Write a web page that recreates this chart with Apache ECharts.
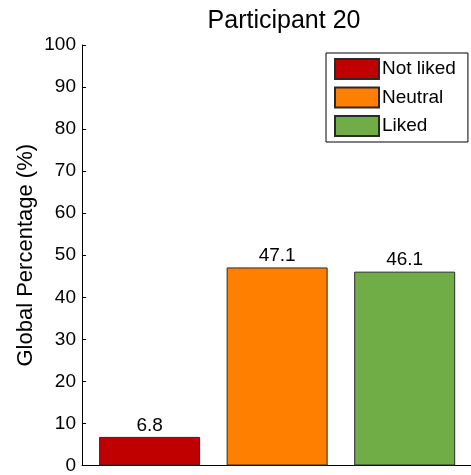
<!DOCTYPE html>
<html><head><meta charset="utf-8">
<script src="https://cdn.jsdelivr.net/npm/echarts@6/dist/echarts.min.js"></script>
<style>html,body{margin:0;padding:0;background:#fff}#c{width:471px;height:475px}</style>
</head><body><div id="c"></div>
<script>
const categories = ["Not liked", "Neutral", "Liked"];
const values = [6.8, 47.1, 46.1];
const colors = ["#C00000", "#FF8000", "#70AD47"];
const yTicks = [0, 10, 20, 30, 40, 50, 60, 70, 80, 90, 100];
const titleText = "Participant 20";
const yName = "Global Percentage (%)";

const font = "Liberation Sans, Arial, sans-serif";
const chart = echarts.init(document.getElementById('c'), null, {renderer: 'canvas'});
const series = categories.map((name, i) => ({
  name: name,
  type: 'bar',
  barWidth: 101,
  barGap: '-100%',
  data: [[i + 1, values[i]]],
  itemStyle: {color: colors[i], borderColor: '#2a2a2a', borderWidth: 1},
  label: {show: true, position: 'top', distance: 2, color: '#000', fontSize: 19, fontFamily: font,
          formatter: p => p.value[1].toFixed(1)},
  emphasis: {disabled: true},
  animation: false
}));
chart.setOption({
  animation: false,
  title: {text: titleText, left: 279, textAlign: 'center', top: 4,
          textStyle: {fontSize: 25, fontWeight: 'normal', color: '#000', fontFamily: font}},
  grid: {left: 82, right: 0, top: 45, bottom: 6, containLabel: false},
  legend: {
    orient: 'vertical', left: 326, top: 53,
    itemWidth: 44, itemHeight: 20, itemGap: 6.5,
    padding: [5, 12, 5, 8],
    borderColor: '#000', borderWidth: 1, backgroundColor: '#fff',
    textStyle: {fontSize: 19, color: '#000', fontFamily: font, padding: [0, 0, 0, -2]},
    data: categories.map(c => ({name: c, icon: 'rect'}))
  },
  xAxis: {
    type: 'value', min: 0.47, max: 3.52,
    axisLine: {show: true, lineStyle: {color: '#000', width: 1}},
    axisTick: {show: false}, axisLabel: {show: false}, splitLine: {show: false}
  },
  yAxis: {
    type: 'value', min: yTicks[0], max: yTicks[yTicks.length - 1], interval: 10,
    name: yName, nameLocation: 'middle', nameGap: 45, nameRotate: 90, nameMoveOverlap: false,
    nameTextStyle: {fontSize: 22, color: '#000', fontFamily: font},
    axisLine: {show: true, lineStyle: {color: '#000', width: 1}},
    axisTick: {show: true, inside: true, length: 4, lineStyle: {color: '#000'}},
    axisLabel: {color: '#000', fontSize: 19, fontFamily: font, margin: 6},
    splitLine: {show: false}
  },
  series: series
});
</script></body></html>
